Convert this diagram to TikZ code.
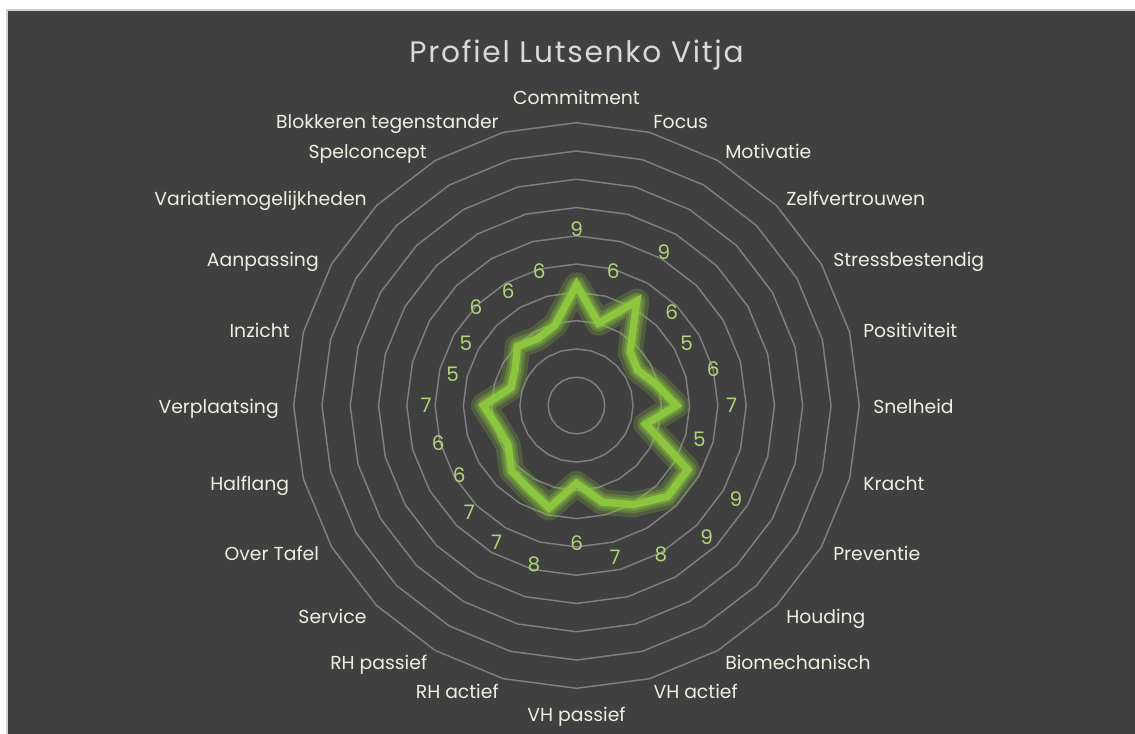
\documentclass[tikz,border=0pt]{standalone}
\usepackage{fontspec}
\setmainfont{Poppins}
\newfontfamily\titlefont[LetterSpace=6]{Poppins}
\definecolor{bgdark}{HTML}{404040}
\definecolor{framegray}{HTML}{D0D0D0}
\definecolor{gridgray}{HTML}{808080}
\definecolor{cattext}{HTML}{EBF1DE}
\definecolor{numtext}{HTML}{ADD67A}
\definecolor{linegreen}{HTML}{8CC63F}
\definecolor{titlegray}{HTML}{D9D9D9}
\tikzset{
  gridring/.style={draw=gridgray, line width=1.1},
  catlabel/.style={text=cattext, inner sep=0pt, font=\fontsize{14.1}{17}\selectfont},
  numlabel/.style={text=numtext, inner sep=0pt, font=\fontsize{15}{17}\selectfont},
  glowA/.style={draw=linegreen, opacity=0.22, line width=19, line join=round},
  glowB/.style={draw=linegreen, opacity=0.30, line width=13, line join=round},
  glowC/.style={draw=linegreen, opacity=0.40, line width=9, line join=round},
  dataline/.style={draw=linegreen, line width=5.5, line join=miter, miter limit=4}
}
\begin{document}
\begin{tikzpicture}[x=0.75pt,y=0.75pt]
\useasboundingbox (-576.5,-327.5) rectangle (558.5,405.5);
\fill[white] (-576.5,-327.5) rectangle (558.5,405.5);
\fill[bgdark] (-569.2,-335) rectangle (565,395.5);
\draw[framegray, line width=1.2] (-569.2,-335) -- (-569.2,395.5) -- (565,395.5);

% title
\node[text=titlegray, inner sep=0pt, anchor=base, font=\titlefont\fontsize{22.2}{27}\selectfont] (title) at (0,343.2) {Profiel Lutsenko Vitja};

% grid rings (24-gons)
\foreach \k in {1,...,10} {
  \draw[gridring] (90:{\k*28.28}) \foreach \i in {1,...,23} { -- ({90-\i*15}:{\k*28.28}) } -- cycle;
}

% data points
\foreach \r [count=\i from 0] in {120.5,85.3,120.4,76,70.6,82.4,100,72,128.4,128.7,114.5,100,78,106,96,92,79,82,93,68,71,83.5,77.3,83.2}
  \coordinate (d\i) at ({90-15*\i}:\r);

\foreach \st in {glowA,glowB,glowC,dataline} {
  \draw[\st] (d0) \foreach \i in {1,...,23} { -- (d\i) } -- cycle;
}

% value labels
\foreach \v/\x/\y [count=\i from 0] in {
  9/576.7/229.3, 6/613.3/270.7, 9/664/252.3, 6/671.7/311.7, 5/686.7/343.3, 6/713.3/369.3,
  7/731.7/405, 5/699.3/439.3, 9/736/499, 9/706.7/537.3, 8/661/554.3, 7/615/557.3,
  6/576.7/542.7, 8/534/564.3, 7/496.7/542.7, 7/469.3/512.7, 6/459.3/475, 6/438.3/443.3,
  7/426/405, 5/452.7/374, 5/466/343.3, 6/476/307.3, 6/508.3/290.7, 6/539.3/270.7}
  \node[numlabel] (n\i) at ({\x-576.5},{405.5-\y}) {\v};

% category labels
\node[catlabel, anchor=base] (c0) at (0,301.2) {Commitment};
\node[catlabel, anchor=base west] (c1) at (76.5,277.5) {Focus};
\node[catlabel, anchor=base west] (c2) at (148.5,247.5) {Motivatie};
\node[catlabel, anchor=base west] (c3) at (209.5,200.5) {Zelfvertrouwen};
\node[catlabel, anchor=base west] (c4) at (256.5,139.5) {Stressbestendig};
\node[catlabel, anchor=base west] (c5) at (286.5,68.5) {Positiviteit};
\node[catlabel, anchor=base west] (c6) at (296.5,-7.5) {Snelheid};
\node[catlabel, anchor=base west] (c7) at (286.5,-84.5) {Kracht};
\node[catlabel, anchor=base west] (c8) at (256.5,-155.2) {Preventie};
\node[catlabel, anchor=base west] (c9) at (209.5,-217.5) {Houding};
\node[catlabel, anchor=base west] (c10) at (148.5,-264.2) {Biomechanisch};
\node[catlabel, anchor=base west] (c11) at (76.8,-293.2) {VH actief};
\node[catlabel, anchor=base] (c12) at (0,-315.5) {VH passief};
\node[catlabel, anchor=base east] (c13) at (-77.5,-293.2) {RH actief};
\node[catlabel, anchor=base east] (c14) at (-149,-264.2) {RH passief};
\node[catlabel, anchor=base east] (c15) at (-209.8,-217.5) {Service};
\node[catlabel, anchor=base east] (c16) at (-257.2,-155.2) {Over Tafel};
\node[catlabel, anchor=base east] (c17) at (-287.2,-84.5) {Halflang};
\node[catlabel, anchor=base east] (c18) at (-297.5,-7.5) {Verplaatsing};
\node[catlabel, anchor=base east] (c19) at (-286.5,68.5) {Inzicht};
\node[catlabel, anchor=base east] (c20) at (-257.5,139.5) {Aanpassing};
\node[catlabel, anchor=base east] (c21) at (-209.5,200.5) {Variatiemogelijkheden};
\node[catlabel, anchor=base east] (c22) at (-149.5,247.5) {Spelconcept};
\node[catlabel, anchor=base east] (c23) at (-77.5,277.5) {Blokkeren tegenstander};
\end{tikzpicture}
\end{document}
